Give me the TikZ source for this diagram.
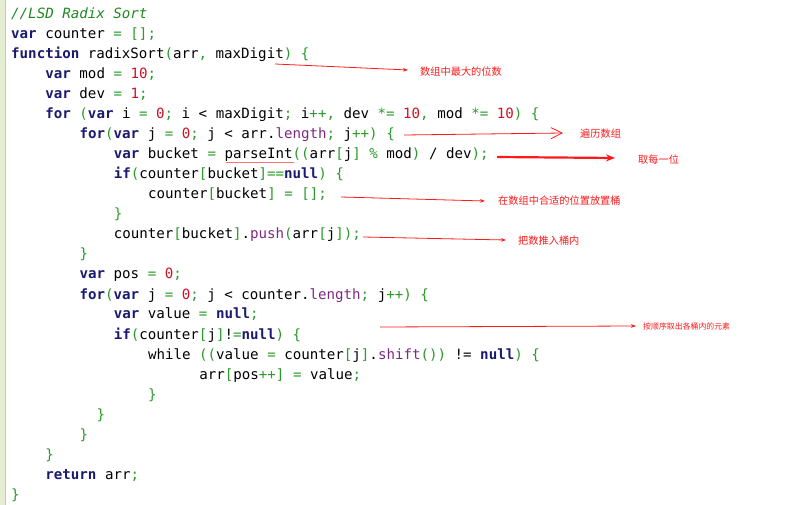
\documentclass[tikz,border=0pt]{standalone}
\usepackage{fontspec}
\usetikzlibrary{arrows.meta}
\newfontfamily\codefont{DejaVu Sans Mono}
\newfontfamily\cjkfont{Noto Sans CJK SC}
\definecolor{ckwc}{HTML}{1A1A70}
\definecolor{copc}{HTML}{2A9A2A}
\definecolor{cnmc}{HTML}{D01025}
\definecolor{cmthc}{HTML}{7E2A80}
\definecolor{ccmc}{HTML}{1F8A1F}
\definecolor{notered}{HTML}{FF1A1A}
\definecolor{gutterfill}{HTML}{E4ECD2}
\definecolor{gutterline}{HTML}{C4CFAE}
\newcommand\ckw[1]{\textcolor{ckwc}{\bfseries #1}}
\newcommand\cop[1]{\textcolor{copc}{#1}}
\newcommand\cnm[1]{\textcolor{cnmc}{#1}}
\newcommand\cmth[1]{\textcolor{cmthc}{#1}}
\frenchspacing
\tikzset{
  codeline/.style={anchor=base west, inner sep=0pt, text=black, font=\codefont\fontsize{14.15}{20}\selectfont},
  note/.style={anchor=west, inner sep=0pt, text=notered, font=\cjkfont\fontsize{10.2}{12}\selectfont},
  smallnote/.style={note, font=\cjkfont\fontsize{7.9}{10}\selectfont},
  noteline/.style={draw=notered, line width=0.8pt},
  thinhead/.style={-{Stealth[length=5pt,width=3.6pt]}},
}
\begin{document}
\begin{tikzpicture}[x=1pt,y=-1pt]
\fill[white] (0,0) rectangle (801,505);
\useasboundingbox (0,0) rectangle (801,505);
% gutter
\fill[gutterfill] (0,0) rectangle (5.5,505);
\draw[gutterline, line width=0.8pt] (5.8,0) -- (5.8,505);
% code lines
\node[codeline] (l1) at (11,19) {\textcolor{ccmc}{\itshape //LSD Radix Sort}};
\node[codeline] (l2) at (11,39) {\ckw{var} counter \cop{= [];}};
\node[codeline] (l3) at (11,59) {\ckw{function} radixSort\cop{(}arr\cop{,} maxDigit\cop{) \{}};
\node[codeline] (l4) at (45.2,79) {\ckw{var} mod \cop{=} \cnm{10}\cop{;}};
\node[codeline] (l5) at (45.2,99) {\ckw{var} dev \cop{=} \cnm{1}\cop{;}};
\node[codeline] (l6) at (45.2,119) {\ckw{for} \cop{(}\ckw{var} i \cop{=} \cnm{0}\cop{;} i < maxDigit\cop{;} i\cop{++,} dev \cop{*=} \cnm{10}\cop{,} mod \cop{*=} \cnm{10}\cop{) \{}};
\node[codeline] (l7) at (79.4,139) {\ckw{for}\cop{(}\ckw{var} j \cop{=} \cnm{0}\cop{;} j < arr.\cmth{length}\cop{;} j\cop{++) \{}};
\node[codeline] (l8) at (113.6,159) {\ckw{var} bucket \cop{=} parseInt\cop{((}arr\cop{[}j\cop{]} \cop{\%} mod\cop{)} / dev\cop{);}};
\node[codeline] (l9) at (113.6,179) {\ckw{if}\cop{(}counter\cop{[}bucket\cop{]==}\ckw{null}\cop{) \{}};
\node[codeline] (l10) at (147.8,199) {counter\cop{[}bucket\cop{]} \cop{= [];}};
\node[codeline] (l11) at (113.6,219) {\cop{\}}};
\node[codeline] (l12) at (113.6,239) {counter\cop{[}bucket\cop{]}.\cmth{push}\cop{(}arr\cop{[}j\cop{]);}};
\node[codeline] (l13) at (79.4,259) {\cop{\}}};
\node[codeline] (l14) at (79.4,279) {\ckw{var} pos \cop{=} \cnm{0}\cop{;}};
\node[codeline] (l15) at (79.4,299) {\ckw{for}\cop{(}\ckw{var} j \cop{=} \cnm{0}\cop{;} j < counter.\cmth{length}\cop{;} j\cop{++) \{}};
\node[codeline] (l16) at (113.6,319) {\ckw{var} value \cop{=} \ckw{null}\cop{;}};
\node[codeline] (l17) at (113.6,339) {\ckw{if}\cop{(}counter\cop{[}j\cop{]}!\cop{=}\ckw{null}\cop{) \{}};
\node[codeline] (l18) at (147.8,359) {while \cop{((}value \cop{=} counter\cop{[}j\cop{]}.\cmth{shift}\cop{())} != \ckw{null}\cop{) \{}};
\node[codeline] (l19) at (199.1,379) {arr\cop{[}pos\cop{++]} \cop{=} value\cop{;}};
\node[codeline] (l20) at (147.8,399) {\cop{\}}};
\node[codeline] (l21) at (96.5,419) {\cop{\}}};
\node[codeline] (l22) at (79.4,439) {\cop{\}}};
\node[codeline] (l23) at (45.2,459) {\cop{\}}};
\node[codeline] (l24) at (45.2,479) {\ckw{return} arr\cop{;}};
\node[codeline] (l25) at (11,499) {\cop{\}}};
% parseInt underline
\draw[red!55, line width=0.8pt] (226,162.5) -- (294,162.5);
% annotations
\coordinate (a1s) at (275,64); \coordinate (a1e) at (408,70);
\draw[noteline, thinhead] (a1s) -- (a1e);
\node[note] (t1) at (420,72) {数组中最大的位数};
\coordinate (a2s) at (404,135); \coordinate (a2e) at (563,133);
\draw[noteline, -{Straight Barb[length=11pt,width=11pt]}] (a2s) -- (a2e);
\node[note] (t2) at (580,134) {遍历数组};
\coordinate (a3s) at (497,157); \coordinate (a3e) at (615,158);
\draw[noteline, line width=2.2pt, -{Stealth[length=9pt,width=7pt]}] (a3s) -- (a3e);
\node[note] (t3) at (638,160) {取每一位};
\coordinate (a4s) at (341,197); \coordinate (a4e) at (485,201);
\draw[noteline, thinhead] (a4s) -- (a4e);
\node[note] (t4) at (498,201) {在数组中合适的位置放置桶};
\coordinate (a5s) at (363,237); \coordinate (a5e) at (506,240);
\draw[noteline, thinhead] (a5s) -- (a5e);
\node[note] (t5) at (518,241) {把数推入桶内};
\coordinate (a6s) at (380,327); \coordinate (a6e) at (636,326);
\draw[noteline, thinhead] (a6s) -- (a6e);
\node[smallnote] (t6) at (643,326) {按顺序取出各桶内的元素};
\end{tikzpicture}
\end{document}
